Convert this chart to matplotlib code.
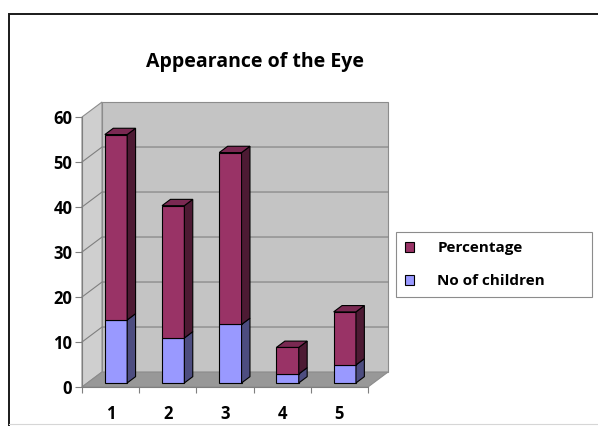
import matplotlib
matplotlib.use('Agg')
from matplotlib import pyplot as plt
from matplotlib.patches import Polygon, Patch, Rectangle
from matplotlib.lines import Line2D

categories = ['1', '2', '3', '4', '5']
no_of_children = [14, 10, 13, 2, 4]
percentage = [41.2, 29.4, 38.2, 5.9, 11.8]
y_ticks = [0, 10, 20, 30, 40, 50, 60]

FONT = ['Open Sans', 'DejaVu Sans']

# oblique "3d" offsets in data units (category units, value units)
DX = 0.35
DY = 3.33
BAR_FRONT = 0.27   # depth of bar front face (fraction of floor depth)
BAR_DEPTH = 0.42   # bar depth (fraction of floor depth)
BAR_W = 0.39

purple = ('#993366', '#7a2952', '#4d1a33')   # front, top, side
blue = ('#9999ff', '#7a7acc', '#4d4d80')

fig = plt.figure(figsize=(5.98, 4.26), dpi=100)
fig.patch.set_facecolor('white')
ax = fig.add_axes([82 / 598, (426 - 387) / 426, 286 / 598, 270 / 426])
ax.set_facecolor('none')

x0, x1 = 0.5, len(categories) + 0.5
ymax = 60
ax.set_xlim(x0, x1)
ax.set_ylim(0, ymax)


def poly(pts, fc, ec='none', lw=0.0, z=0.5):
    ax.add_patch(Polygon(pts, closed=True, facecolor=fc, edgecolor=ec,
                         linewidth=lw, zorder=z, clip_on=False))


# walls and floor
poly([(x0 + DX, DY), (x1 + DX, DY), (x1 + DX, ymax + DY), (x0 + DX, ymax + DY)],
     '#c4c4c4', '#8c8c8c', 0.8)
poly([(x0, 0), (x0 + DX, DY), (x0 + DX, ymax + DY), (x0, ymax)],
     '#cfcfcf', '#8c8c8c', 0.8)
poly([(x0, 0), (x1, 0), (x1 + DX, DY), (x0 + DX, DY)],
     '#989898', '#8c8c8c', 0.8)

# gridlines on side wall and back wall
for v in y_ticks[1:-1]:
    ax.add_line(Line2D([x0, x0 + DX, x1 + DX], [v, v + DY, v + DY],
                       color='#7f7f7f', lw=0.8, zorder=0.6, clip_on=False))

# stacked bars
bottoms = [0.0] * len(categories)
series = [(no_of_children, blue, 'No of children'), (percentage, purple, 'Percentage')]
for k, (vals, cols, name) in enumerate(series):
    for i, v in enumerate(vals):
        xc = i + 1 + BAR_FRONT * DX
        b = bottoms[i] + BAR_FRONT * DY
        t = b + v
        ax.bar(xc, v, width=BAR_W, bottom=b, color=cols[0], edgecolor='black',
               linewidth=0.8, zorder=2, clip_on=False)
        xr = xc + BAR_W / 2
        xl = xc - BAR_W / 2
        ddx, ddy = BAR_DEPTH * DX, BAR_DEPTH * DY
        poly([(xr, b), (xr + ddx, b + ddy), (xr + ddx, t + ddy), (xr, t)],
             cols[2], 'black', 0.8, 2)
        if k == len(series) - 1:
            poly([(xl, t), (xr, t), (xr + ddx, t + ddy), (xl + ddx, t + ddy)],
                 cols[1], 'black', 0.8, 2)
    bottoms = [bottoms[i] + vals[i] for i in range(len(vals))]

# axes styling
for s in ['top', 'right']:
    ax.spines[s].set_visible(False)
for s in ['left', 'bottom']:
    ax.spines[s].set_color('#7f7f7f')
    ax.spines[s].set_linewidth(0.8)
    ax.spines[s].set_zorder(0.7)

ax.set_yticks(y_ticks)
ax.set_yticklabels([str(t) for t in y_ticks], fontfamily=FONT,
                   fontweight='bold', fontsize=12)
ax.tick_params(axis='y', length=5, color='#7f7f7f', pad=2)

ax.set_xticks([x0 + i for i in range(len(categories) + 1)])
ax.set_xticklabels([])
ax.set_xticks([i + 1 for i in range(len(categories))], minor=True)
ax.set_xticklabels(categories, minor=True, fontfamily=FONT,
                   fontweight='bold', fontsize=12)
ax.tick_params(axis='x', which='major', length=4, color='#7f7f7f')
ax.tick_params(axis='x', which='minor', length=0, pad=13)

fig.text(255 / 598, 1 - 62 / 426, 'Appearance of the Eye', ha='center',
         va='center', fontfamily=FONT, fontweight='bold', fontsize=14)

handles = [Patch(facecolor=purple[0], edgecolor='black', linewidth=0.8),
           Patch(facecolor=blue[0], edgecolor='black', linewidth=0.8)]
leg = fig.legend(handles, ['Percentage', 'No of children'],
                 loc='upper left', mode='expand',
                 bbox_to_anchor=(396 / 598, 1 - 232 / 426, 196 / 598, 0.0),
                 prop={'family': FONT, 'weight': 'bold', 'size': 11},
                 handlelength=0.6, handleheight=0.6, handletextpad=1.5,
                 labelspacing=1.25, borderpad=0.6, borderaxespad=0.0,
                 fancybox=False, framealpha=1)
leg.get_frame().set_edgecolor('#8c8c8c')
leg.get_frame().set_linewidth(0.8)

# outer chart border (cropped at right and bottom)
fig.add_artist(Rectangle((8.5 / 598, -0.1), 1.0, 1 - 13.5 / 426 + 0.1,
                         transform=fig.transFigure, fill=False,
                         edgecolor='#1a1a1a', linewidth=1.4))
fig.add_artist(Line2D([8.5 / 598, 1], [1 - 423.5 / 426] * 2,
                      transform=fig.transFigure, color='#d6d6d6', lw=0.8))

fig.savefig('out.png', dpi=100)
